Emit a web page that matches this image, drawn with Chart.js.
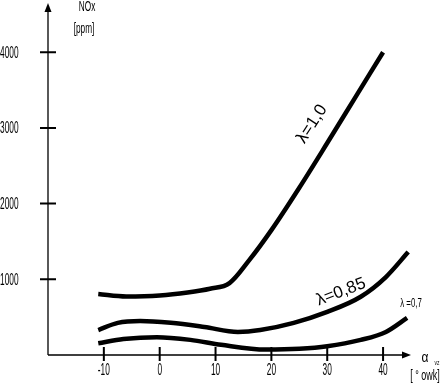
<!DOCTYPE html>
<html>
<head>
<meta charset="utf-8">
<script src="https://cdn.jsdelivr.net/npm/chart.js@4/dist/chart.umd.min.js"></script>
<style>
  html, body { margin: 0; padding: 0; background: #fff; }
  #wrap { width: 441px; height: 386px; }
</style>
</head>
<body>
<div id="wrap"><canvas id="myChart" width="441" height="386"></canvas></div>
<script>
// ignition advance [deg] vs NOx [ppm] for three air ratios
const lambda10X = [-11, -6, 0, 5, 9, 12.5, 16, 20, 25, 30, 35, 40];
const lambda10Y = [805, 772, 785, 825, 875, 950, 1250, 1650, 2210, 2800, 3400, 4000];

const lambda085X = [-11, -7.5, -3.5, 2, 8, 14, 18, 24, 30, 36, 40.5, 44.5];
const lambda085Y = [330, 425, 450, 425, 370, 305, 330, 425, 570, 770, 1030, 1360];

const lambda07X = [-11, -6.5, -0.5, 5.5, 11, 19, 25, 30, 36, 40.5, 44.3];
const lambda07Y = [155, 210, 235, 200, 135, 72, 82, 115, 200, 305, 490];

const xTicks = [-10, 0, 10, 20, 30, 40];
const yTicks = [1000, 2000, 3000, 4000];

const FONT = "'Liberation Sans', Arial, sans-serif";

function toPoints(xs, ys) {
  return xs.map((x, i) => ({ x: x, y: ys[i] }));
}

function squeezed(ctx, text, x, y, size, sx, align) {
  ctx.save();
  ctx.translate(x, y);
  ctx.scale(sx, 1);
  ctx.font = size + "px " + FONT;
  ctx.textAlign = align;
  ctx.textBaseline = "alphabetic";
  ctx.fillText(text, 0, 0);
  ctx.restore();
}

function rotated(ctx, text, x, y, size, angleDeg) {
  ctx.save();
  ctx.translate(x, y);
  ctx.rotate(angleDeg * Math.PI / 180);
  ctx.font = size + "px " + FONT;
  ctx.textAlign = "center";
  ctx.textBaseline = "middle";
  ctx.fillText(text, 0, 0);
  ctx.restore();
}

// axes with arrows, crossing tick marks and the narrow labels
const axesPlugin = {
  id: "axesPlugin",
  afterDatasetsDraw(chart) {
    const ctx = chart.ctx;
    const xs = chart.scales.x;
    const ys = chart.scales.y;
    const x0 = xs.getPixelForValue(xs.min);
    const y0 = ys.getPixelForValue(0);
    const xEnd = xs.getPixelForValue(xs.max);
    const yEnd = ys.getPixelForValue(ys.max);

    ctx.save();
    ctx.strokeStyle = "#000";
    ctx.fillStyle = "#000";

    ctx.lineWidth = 1.3;
    ctx.beginPath();
    ctx.moveTo(x0, y0);
    ctx.lineTo(x0, yEnd + 6);
    ctx.moveTo(x0, y0);
    ctx.lineTo(xEnd - 6, y0);
    ctx.stroke();

    // arrow heads
    ctx.beginPath();
    ctx.moveTo(x0, yEnd);
    ctx.lineTo(x0 - 3.5, yEnd + 9);
    ctx.lineTo(x0 + 3.5, yEnd + 9);
    ctx.closePath();
    ctx.fill();
    ctx.beginPath();
    ctx.moveTo(xEnd, y0);
    ctx.lineTo(xEnd - 9, y0 - 3.5);
    ctx.lineTo(xEnd - 9, y0 + 3.5);
    ctx.closePath();
    ctx.fill();

    ctx.lineWidth = 2;
    ctx.beginPath();
    yTicks.forEach((v) => {
      const py = ys.getPixelForValue(v);
      ctx.moveTo(x0 - 8, py);
      ctx.lineTo(x0 + 8, py);
    });
    xTicks.forEach((v) => {
      const px = xs.getPixelForValue(v);
      ctx.moveTo(px, y0 - 8);
      ctx.lineTo(px, y0 + 6);
    });
    ctx.stroke();

    yTicks.forEach((v) => {
      squeezed(ctx, String(v), 0, ys.getPixelForValue(v) + 5.5, 16, 0.52, "left");
    });
    xTicks.forEach((v) => {
      squeezed(ctx, String(v), xs.getPixelForValue(v), y0 + 20, 16, 0.52, "center");
    });

    squeezed(ctx, "NOx", 87, 11, 15, 0.55, "center");
    squeezed(ctx, "[ppm]", 84, 33, 15, 0.55, "center");

    squeezed(ctx, "\u03b1", 425, 362, 15, 0.8, "center");
    squeezed(ctx, "vz", 437, 365, 7, 0.7, "center");
    squeezed(ctx, "[ \u00b0 owk]", 425, 380, 15, 0.6, "center");

    squeezed(ctx, "\u03bb =0,7", 411, 307, 13, 0.6, "center");
    rotated(ctx, "\u03bb=0,85", 341, 292, 17, -21);
    rotated(ctx, "\u03bb=1,0", 312, 124, 17, -57);

    ctx.restore();
  },
};

const lineStyle = {
  borderColor: "#000",
  borderWidth: 4.5,
  pointRadius: 0,
  showLine: true,
  fill: false,
  cubicInterpolationMode: "monotone",
  borderCapStyle: "butt",
};

const config = {
  type: "scatter",
  data: {
    datasets: [
      Object.assign({ label: "\u03bb=1,0", data: toPoints(lambda10X, lambda10Y) }, lineStyle),
      Object.assign({ label: "\u03bb=0,85", data: toPoints(lambda085X, lambda085Y) }, lineStyle),
      Object.assign({ label: "\u03bb=0,7", data: toPoints(lambda07X, lambda07Y) }, lineStyle),
    ],
  },
  options: {
    responsive: false,
    animation: false,
    layout: { padding: { left: 48, right: 30, top: 3, bottom: 31 } },
    plugins: { legend: { display: false }, tooltip: { enabled: false } },
    scales: {
      x: { type: "linear", min: -20, max: 45, display: false },
      y: { type: "linear", min: 0, max: 4650, display: false },
    },
  },
  plugins: [axesPlugin],
};

document.addEventListener("DOMContentLoaded", function () {
  const ctx = document.getElementById("myChart").getContext("2d");
  new Chart(ctx, config);
});
</script>
</body>
</html>
